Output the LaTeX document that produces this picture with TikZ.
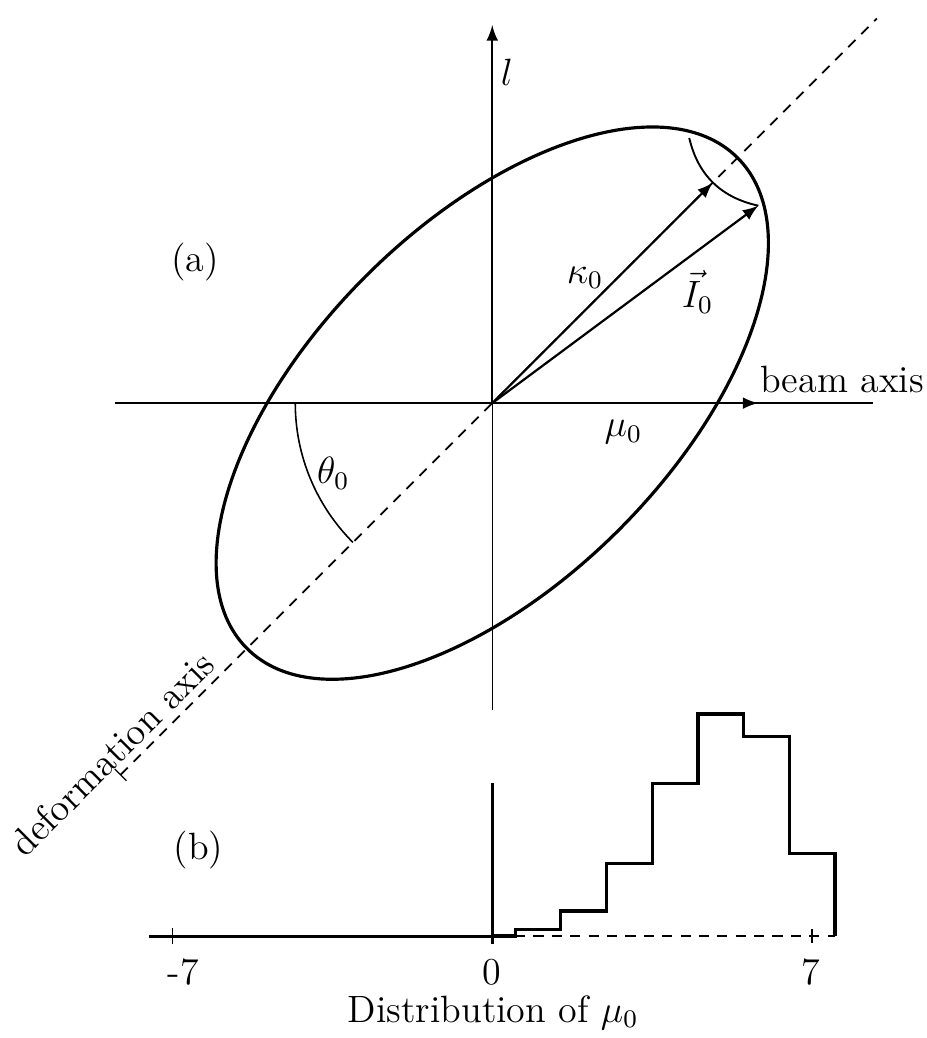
\documentclass[tikz,border=0pt]{standalone}
\usepackage{amsmath,amssymb}
\usetikzlibrary{arrows,calc}

\begin{document}
\begin{tikzpicture}[
  x=0.507cm, y=0.507cm,
  thinaxis/.style={line width=0.4pt},
  vec/.style={->, >=latex, line width=0.7pt},
  outline/.style={line width=1pt},
  deform/.style={dash pattern=on 3.2pt off 2.6pt, line width=0.6pt},
  every node/.style={font=\large}
]
  \useasboundingbox (-10.77,-13.89) rectangle (9.50,8.82);

  % Panel (a): axes and vectors
  \coordinate (O) at (0,0);
  \coordinate (beamL) at (-8.25,0);
  \coordinate (beamR) at (8.32,0);
  \coordinate (mu) at (5.82,0);
  \coordinate (lowL) at (0,-6.72);
  \coordinate (ltip) at (0,8.27);
  \coordinate (kappa) at (45:6.82);
  \coordinate (Ivec) at (5.82,4.32);
  \coordinate (arcA) at (4.31,5.80);
  \coordinate (defA) at (225:11.5);
  \coordinate (defB) at (45:11.9);

  % Deformed nucleus
  \draw[outline, rotate=45] (O) ellipse (7.59 and 3.92);

  % Deformation axis
  \draw[deform] (defA) -- (defB);
  \draw[thinaxis] ($(defA)+(135:0.18)$) -- ($(defA)+(-45:0.18)$);

  \draw[thinaxis] (beamL) -- (beamR);
  \draw[thinaxis] (lowL) -- (O);
  \draw[vec] (O) -- (mu);
  \draw[vec] (O) -- (ltip);
  \draw[vec] (O) -- (kappa);
  \draw[vec] (O) -- (Ivec);
  \draw[line width=0.6pt] (arcA) .. controls (4.50,4.99) and (5.00,4.50) .. (Ivec);
  \draw[line width=0.5pt] (-4.31,0) arc[start angle=180, end angle=225, radius=4.31];

  % Labels
  \node (lbll) at (0.32,7.24) {$l$};
  \node (lblkappa) at (2.03,2.74) {$\kappa_0$};
  \node (lblI) at (4.49,2.43) {$\vec{I}_0$};
  \node (lblmu) at (2.87,-0.63) {$\mu_0$};
  \node[anchor=base west, inner sep=0pt] (lblbeam) at (5.85,0.24) {beam axis};
  \node (lbltheta) at (-3.48,-1.53) {$\theta_0$};
  \node (lbla) at (-6.50,3.09) {(a)};
  \node[rotate=45, anchor=south, inner sep=2.2pt] (lbldef) at (225:11.3) {deformation axis};

  % Panel (b): distribution of mu_0
  \begin{scope}[shift={(0,-11.66)}]
    \draw[line width=0.9pt] (-7.5,0) -- (0,0);
    \draw[line width=0.9pt] (0,-0.18) -- (0,3.35);
    \draw[line width=0.5pt] (-7,-0.18) -- (-7,0.18);
    \draw[line width=0.5pt] (7,-0.15) -- (7,0.15);
    \draw[deform] (0.5,0) -- (7.5,0);
    \draw[line width=1pt] (0,0) -- (0.5,0) -- (0.5,0.15) -- (1.5,0.15) -- (1.5,0.55)
      -- (2.5,0.55) -- (2.5,1.58) -- (3.5,1.58) -- (3.5,3.34) -- (4.5,3.34)
      -- (4.5,4.86) -- (5.5,4.86) -- (5.5,4.36) -- (6.5,4.36) -- (6.5,1.81)
      -- (7.5,1.81) -- (7.5,0);

    \node (lblb) at (-6.43,1.88) {(b)};
    \node (tickm7) at (-6.76,-0.79) {-7};
    \node (tick0) at (0,-0.79) {0};
    \node (tick7) at (6.96,-0.79) {7};
    \node (lbldist) at (0.02,-1.67) {Distribution of $\mu_0$};
  \end{scope}
\end{tikzpicture}
\end{document}
